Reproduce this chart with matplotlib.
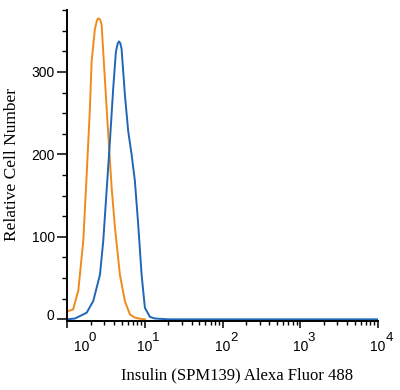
# flow histogram: isotype (orange) vs insulin stain (blue)

import numpy as np
import matplotlib
matplotlib.use('Agg')
import matplotlib.pyplot as plt
import matplotlib.transforms as mtrans
from matplotlib.ticker import FixedLocator, LogLocator, NullFormatter

# curves
iso_x = [1.0, 1.03, 1.19, 1.39, 1.61, 1.78, 1.96, 2.06, 2.27, 2.42, 2.51, 2.64, 2.77,
         3.06, 3.37, 3.73, 4.11, 4.77, 5.53, 6.41, 7.43, 9.0, 10.0]
iso_y = [10, 10, 12, 35, 95, 175, 256, 312, 352, 363, 365, 364, 358,
         290, 225, 160, 112, 54, 22, 6, 2, 0.5, 0]

ins_x = [1.0, 1.26, 1.78, 2.16, 2.64, 2.91, 3.21, 3.54, 3.91, 4.23, 4.45, 4.63, 4.82,
         5.01, 5.53, 6.10, 6.74, 7.43, 8.20, 9.07, 10.0, 11.6, 13.4, 20, 100, 1000, 10000]
ins_y = [0, 1, 8, 22, 54, 95, 155, 215, 280, 324, 334, 337, 335,
         328, 272, 228, 200, 168, 115, 54, 14, 3, 1, 0, 0, 0, 0]

x_ticks = [1, 10, 100, 1000, 10000]
x_exps = ['0', '1', '2', '3', '4']
y_ticks = [0, 100, 200, 300]

plt.rcParams['font.family'] = ['Liberation Sans', 'DejaVu Sans']

fig = plt.figure(figsize=(4.0, 3.9), dpi=100)
ax = fig.add_axes([0.168, 0.177, 0.777, 0.797])

ax.plot(iso_x, iso_y, color='#f08a1c', lw=1.4)
ax.plot(ins_x, ins_y, color='#1f66b8', lw=1.4)

ax.set_xscale('log')
ax.set_xlim(1, 10000)
ax.set_ylim(-2, 375)

ax.xaxis.set_major_locator(FixedLocator(x_ticks))
ax.set_xticklabels(['10'] * len(x_ticks))
ax.xaxis.set_minor_locator(LogLocator(base=10, subs=np.arange(2, 10)))
ax.xaxis.set_minor_formatter(NullFormatter())
ax.set_yticks(y_ticks)
ax.yaxis.set_minor_locator(FixedLocator(np.arange(25, 376, 25)))

for s in ['top', 'right']:
    ax.spines[s].set_visible(False)
for s in ['left', 'bottom']:
    ax.spines[s].set_linewidth(1.4)

ax.tick_params(axis='y', which='major', direction='out', length=7.5, width=1.1, labelsize=10, pad=1.5)
ax.tick_params(axis='y', which='minor', direction='out', length=3.6, width=1.0)
ax.tick_params(axis='x', which='major', direction='out', length=5, width=1.1, labelsize=10, pad=9)
ax.tick_params(axis='x', which='minor', direction='out', length=3, width=1.0)

# exponents drawn next to the "10"s, nearly full size like the original
blend = mtrans.blended_transform_factory(ax.transData, ax.transAxes)
for i, (xt, e) in enumerate(zip(x_ticks, x_exps)):
    dx = 7.5 + (14 if i == 0 else 0)
    off = mtrans.ScaledTranslation(dx / 100, -20 / 100, fig.dpi_scale_trans)
    ax.text(xt, 0, e, transform=blend + off, fontsize=9.5, ha='left', va='baseline', clip_on=False)

# first labels sit off their ticks, as in the original
lab0 = ax.xaxis.get_majorticklabels()[0]
lab0.set_transform(lab0.get_transform() + mtrans.ScaledTranslation(14 / 100, 0, fig.dpi_scale_trans))
laby0 = ax.yaxis.get_majorticklabels()[0]
laby0.set_transform(laby0.get_transform() + mtrans.ScaledTranslation(0, 5 / 100, fig.dpi_scale_trans))

ax.set_xlabel('Insulin (SPM139) Alexa Fluor 488', family='Liberation Serif', fontsize=12)
ax.xaxis.set_label_coords(0.545, -0.148)
ax.set_ylabel('Relative Cell Number', family='Liberation Serif', fontsize=12.5)
ax.yaxis.set_label_coords(-0.152, 0.505)

fig.savefig('out.png', dpi=100)
